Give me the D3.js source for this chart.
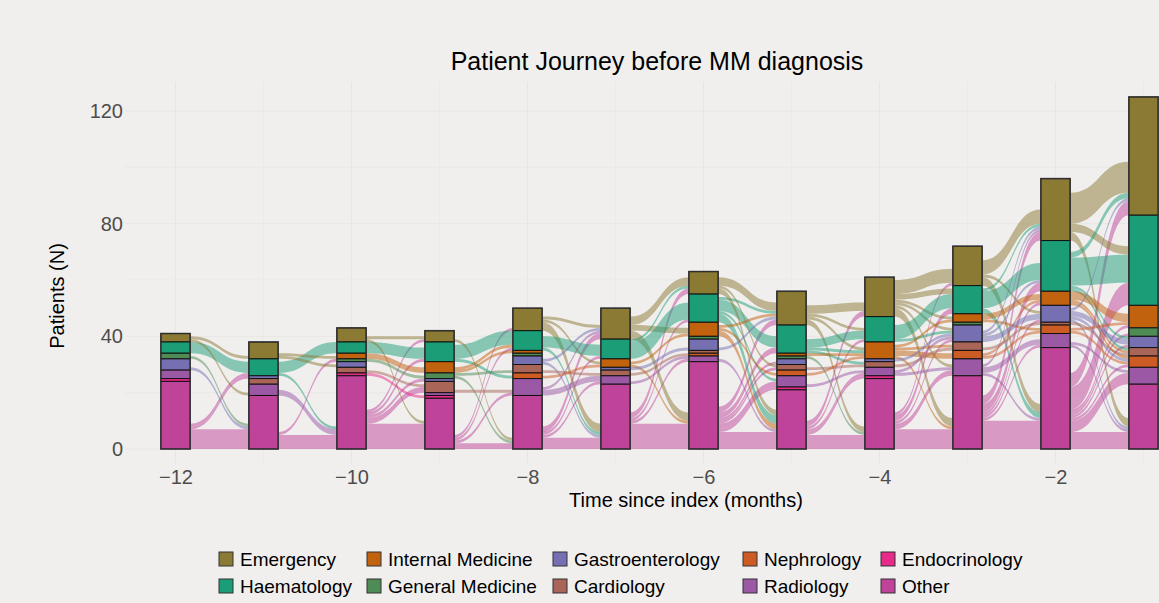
<!DOCTYPE html>
<meta charset="utf-8">
<style>
  body { margin: 0; background: #f0efee; }
  svg { display: block; font-family: "Liberation Sans", Arial, sans-serif; }
  .grid line { stroke: #e7e6e4; }
  .axis text { fill: #4d4d4d; font-size: 20px; }
</style>
<script src="https://cdn.jsdelivr.net/npm/d3@7"></script>
<body>
<div id="chart"></div>
<script>
// months before index and the specialties (top of stack first)
const months = [-12, -11, -10, -9, -8, -7, -6, -5, -4, -3, -2, -1];
const specialties = ["Emergency", "Haematology", "Internal Medicine", "General Medicine", "Gastroenterology",
  "Cardiology", "Nephrology", "Radiology", "Endocrinology", "Other"];
const codes = ["Em", "Hae", "IM", "GM", "Gas", "Car", "Nep", "Rad", "End", "Oth"];
const palette = ["#8b7a33", "#1b9e77", "#c1620e", "#4f8b55", "#7670b3",
  "#a86558", "#cd5c24", "#9b58a5", "#e7298a", "#bf4399"];

// patients seen per specialty, month -12 .. -1
const emergency     = [3, 6, 5, 4, 8, 11, 8, 12, 14, 14, 22, 42];
const haematology   = [4, 6, 4, 7, 7, 7, 10, 10, 9, 10, 18, 32];
const internalMed   = [0, 0, 2, 4, 1, 3, 5, 1, 6, 3, 5, 8];
const generalMed    = [2, 0, 1, 2, 1, 0, 1, 1, 0, 1, 0, 3];
const gastro        = [4, 1, 2, 1, 3, 1, 4, 2, 1, 6, 6, 4];
const cardiology    = [0, 2, 2, 4, 3, 2, 1, 2, 2, 3, 1, 3];
const nephrology    = [0, 0, 0, 0, 2, 0, 1, 2, 0, 3, 3, 4];
const radiology     = [3, 4, 0, 1, 6, 3, 2, 4, 3, 6, 5, 6];
const endocrinology = [1, 0, 1, 1, 0, 0, 0, 1, 1, 0, 0, 0];
const other         = [24, 19, 26, 18, 19, 23, 31, 21, 25, 26, 36, 23];

// patients moving between consecutive months: [from, to, n]
const flow12 = [["Oth","Oth",7],["Oth","Gas",1],["Oth","Hae",1],["Hae","Hae",4],["Em","Em",1],["Em","Rad",1],
  ["GM","Oth",1],["Gas","Oth",1]];
const flow11 = [["Oth","Oth",5],["Oth","GM",1],["Rad","Oth",2],["Hae","Oth",1],["Hae","Hae",4],["Em","IM",1],["Em","Gas",1]];
const flow10 = [["Oth","Oth",9],["Oth","Em",1],["Oth","Hae",1],["Oth","Gas",1],["Oth","Car",2],["Hae","Hae",4],
  ["Em","Oth",1],["Em","Em",1],["IM","IM",2],["Car","Car",1],["GM","GM",1],["End","End",1]];
const flow9 = [["Oth","Oth",2],["Oth","Em",1],["Oth","Rad",1],["Oth","Hae",1],["Hae","Hae",5],["Hae","Nep",1],
  ["IM","IM",1],["IM","Hae",1],["GM","Oth",1],["GM","Car",1],["Car","Rad",1],["Em","Oth",1]];
const flow8 = [["Oth","Oth",4],["Oth","Em",2],["Oth","Hae",1],["Oth","Rad",1],["Em","Em",1],["Em","Oth",3],["Em","IM",1],
  ["Hae","Hae",4],["Hae","Oth",1],["Gas","Em",1],["Gas","Oth",1],["Car","Car",1],["Rad","Rad",2],["Rad","Em",1],["Nep","IM",1]];
const flow7 = [["Oth","Oth",9],["Oth","Em",2],["Oth","Hae",1],["Oth","Rad",1],["Em","Em",3],["Em","IM",2],["Em","Oth",3],
  ["Hae","Hae",6],["Hae","Em",1],["IM","Oth",1],["IM","IM",1],["Rad","Rad",1],["Gas","Gas",1],["Car","Nep",1]];
const flow6 = [["Oth","Oth",6],["Oth","Em",2],["Oth","Hae",2],["Oth","Gas",1],["Oth","Car",1],["Oth","Rad",2],["Oth","End",1],
  ["Hae","Hae",4],["Hae","Oth",3],["Hae","Em",1],["Hae","Rad",1],["Em","Em",3],["Em","Oth",2],["Em","Car",1],
  ["IM","Nep",1],["IM","Oth",2],["IM","Em",1],["Gas","Em",1],["Rad","Oth",1]];
const flow5 = [["Oth","Oth",5],["Oth","Em",2],["Oth","Hae",1],["Oth","Rad",1],["Oth","End",1],["Em","Em",3],["Em","Oth",2],
  ["Em","IM",1],["Em","Hae",1],["Hae","Hae",3],["Hae","Car",1],["Hae","IM",1],["Car","Car",1],["Nep","IM",1],
  ["IM","IM",1],["Rad","Rad",1],["GM","Oth",1]];
const flow4 = [["Oth","Oth",7],["Oth","Hae",2],["Oth","Gas",1],["Oth","Rad",2],["Oth","Em",1],["Em","Em",5],["Em","Oth",3],
  ["Em","Rad",1],["Em","Gas",1],["Em","IM",1],["Em","Hae",2],["Hae","Hae",5],["Hae","Gas",1],["IM","Nep",2],["IM","IM",1],
  ["IM","Car",1],["IM","Oth",1],["Car","Car",1],["Rad","Rad",1],["Rad","Gas",1],["Gas","Gas",1]];
const flow3 = [["Oth","Oth",10],["Oth","Em",3],["Oth","Hae",3],["Oth","IM",1],["Oth","Gas",1],["Oth","Rad",1],["Em","Em",5],
  ["Em","Oth",3],["Em","Gas",1],["Hae","Hae",6],["Hae","Em",1],["Hae","Oth",2],["IM","IM",2],["IM","Nep",1],["Nep","Nep",1],
  ["Nep","IM",1],["Gas","Gas",2],["Gas","Hae",1],["Gas","Em",1],["Car","Car",1],["Rad","Rad",2],["Rad","Em",1],["Rad","Oth",1]];
const flow2 = [["Oth","Oth",6],["Oth","Em",5],["Oth","Hae",8],["Oth","IM",1],["Oth","Gas",1],["Oth","Nep",1],["Oth","Rad",4],
  ["Oth","GM",1],["Em","Em",11],["Em","Oth",3],["Em","Hae",3],["Hae","Hae",10],["Hae","Em",2],["Hae","Car",1],["Hae","Gas",1],
  ["IM","IM",3],["IM","Nep",1],["IM","Car",1],["Gas","Gas",2],["Gas","Em",1],["Gas","Oth",1],["Gas","Nep",1],["Nep","Nep",1],
  ["Nep","IM",1],["Rad","Rad",1],["Rad","Oth",1],["Car","Car",1]];

const counts = [emergency, haematology, internalMed, generalMed, gastro, cardiology, nephrology, radiology, endocrinology, other];
const flows = [flow12, flow11, flow10, flow9, flow8, flow7, flow6, flow5, flow4, flow3, flow2];

const width = 1159, height = 603;
const barWidth = 1 / 3;

const svg = d3.select("#chart").append("svg")
  .attr("width", width)
  .attr("height", height);

svg.append("rect").attr("width", width).attr("height", height).attr("fill", "#f0efee");

const x = d3.scaleLinear().domain([-12, -1]).range([175.5, 1143.5]);
const y = d3.scaleLinear().domain([0, 120]).range([449, 111]);
const color = d3.scaleOrdinal().domain(codes).range(palette);
const idx = c => codes.indexOf(c);

// grid
const grid = svg.append("g").attr("class", "grid");
grid.selectAll("line.h")
  .data(d3.range(0, 121, 20))
  .join("line")
  .attr("x1", 125).attr("x2", width)
  .attr("y1", d => y(d)).attr("y2", d => y(d))
  .attr("stroke-width", d => d % 40 === 0 ? 1 : 0.6);
grid.selectAll("line.v")
  .data(d3.range(-12, 0, 1))
  .join("line")
  .attr("x1", d => x(d)).attr("x2", d => x(d))
  .attr("y1", 82).attr("y2", 465)
  .attr("stroke-width", d => d % 2 === 0 ? 1 : 0.6);

// strata: stack from the bottom (Other) up to Emergency
const strata = months.map((m, i) => {
  let acc = 0;
  const s = [];
  for (let c = codes.length - 1; c >= 0; c--) {
    s[c] = { y0: acc, y1: acc + counts[c][i], code: codes[c], month: m };
    acc += counts[c][i];
  }
  return s;
});

// position each flow inside its strata, filling from the bottom
const flowShapes = [];
flows.forEach((list, i) => {
  const items = list.map(([f, t, n]) => ({ from: idx(f), to: idx(t), n: n, i: i }));
  codes.forEach((c, k) => {
    let acc = strata[i][k].y0;
    items.filter(d => d.from === k).sort((a, b) => b.to - a.to)
      .forEach(d => { d.a0 = acc; acc += d.n; d.a1 = acc; });
    acc = strata[i + 1][k].y0;
    items.filter(d => d.to === k).sort((a, b) => b.from - a.from)
      .forEach(d => { d.b0 = acc; acc += d.n; d.b1 = acc; });
  });
  flowShapes.push(...items);
});

function flowPath(d) {
  const x0 = x(months[d.i] + barWidth / 2), x1 = x(months[d.i + 1] - barWidth / 2);
  const xm = (x0 + x1) / 2;
  return `M${x0},${y(d.a1)} C${xm},${y(d.a1)} ${xm},${y(d.b1)} ${x1},${y(d.b1)}` +
    ` L${x1},${y(d.b0)} C${xm},${y(d.b0)} ${xm},${y(d.a0)} ${x0},${y(d.a0)} Z`;
}

svg.append("g")
  .selectAll("path")
  .data(flowShapes)
  .join("path")
  .attr("d", flowPath)
  .attr("fill", d => palette[d.from])
  .attr("fill-opacity", 0.5);

// bars
const bars = svg.append("g");
bars.selectAll("rect")
  .data(strata.flat().filter(d => d.y1 > d.y0))
  .join("rect")
  .attr("x", d => x(d.month - barWidth / 2))
  .attr("width", d => x(d.month + barWidth / 2) - x(d.month - barWidth / 2))
  .attr("y", d => y(d.y1))
  .attr("height", d => y(d.y0) - y(d.y1))
  .attr("fill", d => color(d.code))
  .attr("stroke", "#111")
  .attr("stroke-width", 1);

bars.selectAll("rect.outline")
  .data(strata)
  .join("rect")
  .attr("class", "outline")
  .attr("x", d => x(d[0].month - barWidth / 2))
  .attr("width", x(barWidth) - x(0))
  .attr("y", d => y(d[0].y1))
  .attr("height", d => y(0) - y(d[0].y1))
  .attr("fill", "none")
  .attr("stroke", "#333")
  .attr("stroke-opacity", 0.8)
  .attr("stroke-width", 1.6);

// axes
svg.append("g")
  .attr("class", "axis")
  .attr("transform", "translate(125,0)")
  .call(d3.axisLeft(y).tickValues([0, 40, 80, 120]).tickSize(0).tickPadding(2));
svg.append("g")
  .attr("class", "axis")
  .attr("transform", "translate(0,465)")
  .call(d3.axisBottom(x).tickValues([-12, -10, -8, -6, -4, -2]).tickSize(0).tickPadding(5));
svg.selectAll(".axis .domain").remove();
svg.selectAll(".axis text").attr("font-family", null);

svg.append("text")
  .attr("x", 657).attr("y", 70)
  .attr("text-anchor", "middle")
  .attr("font-size", 25)
  .text("Patient Journey before MM diagnosis");

svg.append("text")
  .attr("x", 686).attr("y", 507)
  .attr("text-anchor", "middle")
  .attr("font-size", 20)
  .text("Time since index (months)");

svg.append("text")
  .attr("transform", "translate(64,296) rotate(-90)")
  .attr("text-anchor", "middle")
  .attr("font-size", 20)
  .text("Patients (N)");

// legend, two rows filled column by column
const legendX = [219, 367, 553, 743, 881];
const legendY = [552, 579];
const legend = svg.append("g")
  .selectAll("g")
  .data(specialties)
  .join("g")
  .attr("transform", (d, i) => `translate(${legendX[Math.floor(i / 2)]},${legendY[i % 2]})`);
legend.append("rect")
  .attr("width", 14).attr("height", 14)
  .attr("fill", (d, i) => palette[i])
  .attr("stroke", "#333")
  .attr("stroke-width", 1);
legend.append("text")
  .attr("x", 21).attr("y", 13.5)
  .attr("font-size", 19)
  .text(d => d);
</script>
</body>
